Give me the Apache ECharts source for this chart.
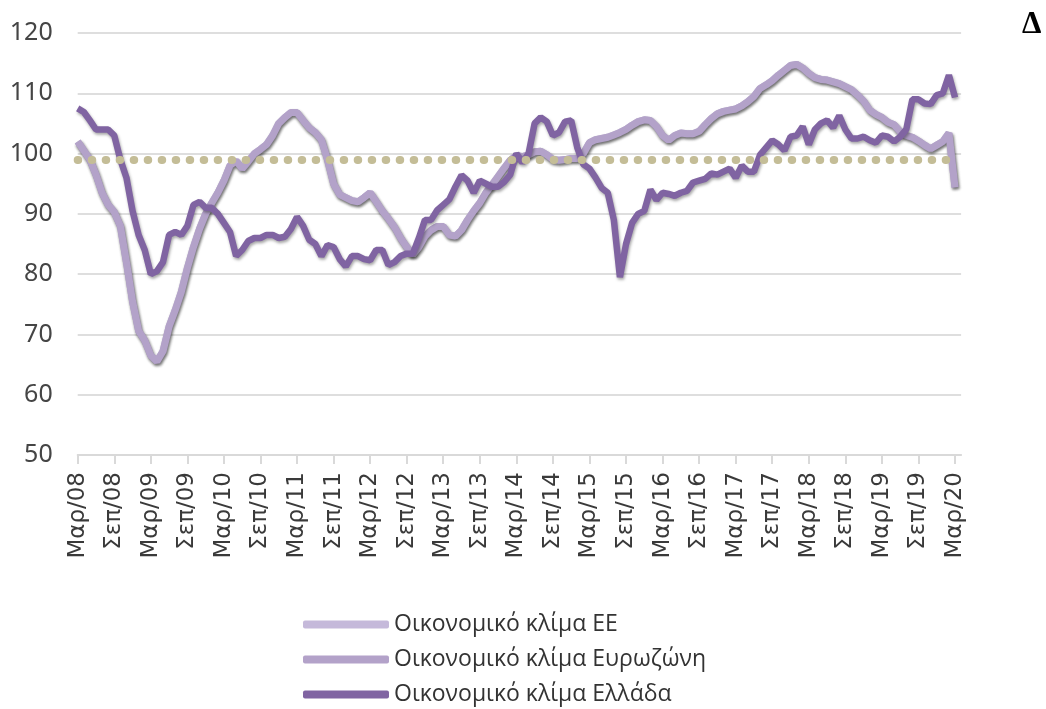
<!DOCTYPE html>
<html>
<head>
<meta charset="utf-8">
<script src="https://cdn.jsdelivr.net/npm/echarts@6/dist/echarts.min.js"></script>
<style>
html,body{margin:0;padding:0;background:#fff;}
#chart{width:1046px;height:709px;}
</style>
</head>
<body>
<div id="chart"></div>
<script>
// Month names (Greek) used to build category labels
const MONTH_NAMES = ['Ιαν','Φεβ','Μαρ','Απρ','Μαϊ','Ιουν','Ιουλ','Αυγ','Σεπ','Οκτ','Νοε','Δεκ'];
// Categories: Mar/08 .. Apr/20 (last one is empty padding at the end of the axis)
const categories = [];
for (let y = 2008, m = 2; !(y === 2020 && m === 4); m++) {
  if (m === 12) { m = 0; y++; }
  categories.push(MONTH_NAMES[m] + '/' + String(y % 100).padStart(2, '0'));
}

const seriesNames = ['Οικονομικό κλίμα ΕΕ', 'Οικονομικό κλίμα Ευρωζώνη', 'Οικονομικό κλίμα Ελλάδα'];

// Economic sentiment, EU (Mar/08 .. Mar/20)
const euValues = [
  102, 100.5, 99, 96.5, 93.5, 91.5, 90.3, 88, 82, 75.5, 70.6, 69,
  66.5, 65.5, 67.2, 71.3, 74, 77, 81, 84.5, 87.5, 90, 91.8, 93.5,
  95.5, 98, 98.8, 97.5, 98.7, 100, 100.7, 101.5, 103, 105, 106, 106.8,
  106.8, 105.5, 104.3, 103.5, 102.3, 99, 95, 93.2, 92.7, 92.2, 92, 92.7,
  93.5, 92, 90.5, 89.2, 87.8, 86, 84.5, 83.2, 84.5, 86.3, 87.3, 87.9,
  87.9, 86.5, 86.3, 87.3, 89, 90.5, 91.8, 93.5, 94.8, 96.2, 97.6, 98.9,
  99.7, 99.5, 99.8, 100.3, 100.4, 99.8, 99, 98.9, 99, 99.2, 99.2, 100,
  101.8, 102.3, 102.5, 102.7, 103.1, 103.5, 104, 104.7, 105.3, 105.6, 105.5, 104.5,
  103, 102.2, 103, 103.4, 103.3, 103.3, 103.7, 104.8, 105.8, 106.6, 107, 107.2,
  107.4, 107.9, 108.6, 109.5, 110.8, 111.4, 112.1, 113, 113.8, 114.6, 114.8, 114.2,
  113.3, 112.6, 112.3, 112.2, 111.9, 111.6, 111.1, 110.6, 109.7, 108.7, 107.2, 106.5,
  106, 105.2, 104.8, 103.6, 103, 102.7, 102.1, 101.4, 100.8, 101.4, 102, 103.4,
  94.4
];

// Economic sentiment, Euro area (Mar/08 .. Mar/20)
const euroAreaValues = [
  102, 100.5, 99, 96.5, 93.5, 91.5, 90.3, 88, 82, 75.5, 70.6, 69,
  66.5, 65.5, 67.2, 71.3, 74, 77, 81, 84.5, 87.5, 90, 91.8, 93.5,
  95.5, 98, 98.8, 97.5, 98.7, 100, 100.7, 101.5, 103, 105, 106, 106.8,
  106.8, 105.5, 104.3, 103.5, 102.3, 99, 95, 93.2, 92.7, 92.2, 92, 92.7,
  93.5, 92, 90.5, 89.2, 87.8, 86, 84.5, 83.2, 84.5, 86.3, 87.3, 87.9,
  87.9, 86.5, 86.3, 87.3, 89, 90.5, 91.8, 93.5, 94.8, 96.2, 97.6, 98.9,
  99.7, 99.5, 99.8, 100.3, 100.4, 99.8, 99, 98.9, 99, 99.2, 99.2, 100,
  101.8, 102.3, 102.5, 102.7, 103.1, 103.5, 104, 104.7, 105.3, 105.6, 105.5, 104.5,
  103, 102.2, 103, 103.4, 103.3, 103.3, 103.7, 104.8, 105.8, 106.6, 107, 107.2,
  107.4, 107.9, 108.6, 109.5, 110.8, 111.4, 112.1, 113, 113.8, 114.6, 114.8, 114.2,
  113.3, 112.6, 112.3, 112.2, 111.9, 111.6, 111.1, 110.6, 109.7, 108.7, 107.2, 106.5,
  106, 105.2, 104.8, 103.6, 103, 102.7, 102.1, 101.4, 100.8, 101.4, 102, 103.4,
  94.4
];

// Economic sentiment, Greece (Mar/08 .. Mar/20)
const greeceValues = [
  107.5, 106.9, 105.5, 104, 104, 104, 103, 99, 96, 90.5, 86.5, 84,
  80, 80.5, 82, 86.5, 87, 86.5, 88, 91.5, 92, 91, 91, 90,
  88.5, 87, 83, 84, 85.5, 86, 86, 86.5, 86.5, 86, 86.2, 87.5,
  89.5, 88, 85.7, 85, 83, 84.8, 84.5, 82.5, 81.3, 83, 83, 82.5,
  82.3, 84, 84, 81.5, 82, 83, 83.4, 83.4, 86, 89, 89, 90.6,
  91.5, 92.4, 94.5, 96.4, 95.5, 93.5, 95.5, 95, 94.5, 94.5, 95.3, 96.5,
  100, 98.5, 100, 105, 106, 105.3, 103, 103.5, 105.3, 105.5, 101, 98.2,
  97.5, 96, 94.3, 93.5, 89, 79.5, 85, 88.5, 90, 90.5, 94, 92.3,
  93.5, 93.3, 93, 93.5, 93.8, 95.2, 95.5, 95.8, 96.7, 96.5, 97, 97.5,
  96, 98, 97, 97, 99.8, 101, 102.2, 101.5, 100.5, 102.8, 103, 104.5,
  101.5, 104, 105, 105.5, 104.3, 106.3, 104, 102.5, 102.5, 102.8, 102.2, 101.8,
  103, 102.8, 102, 102.8, 104, 109, 109, 108.3, 108.2, 109.7, 110, 113,
  109.3
];

// Dotted reference level and its span
const REF_LEVEL = 99;
const REF_START = 'Μαρ/08';
const REF_END = 'Μαρ/20';

const yTicks = { min: 50, max: 120, interval: 10 };
const colors = ['#c5b9da', '#b3a2c9', '#8064a2'];

const shadow = { shadowColor: 'rgba(0,0,0,0.35)', shadowBlur: 3, shadowOffsetX: 1, shadowOffsetY: 2 };

const chart = echarts.init(document.getElementById('chart'), null, { renderer: 'canvas' });
chart.setOption({
  animation: false,
  color: colors,
  grid: { left: 77.7, right: 84.9, top: 33, bottom: 254, containLabel: false },
  xAxis: {
    type: 'category',
    data: categories,
    boundaryGap: false,
    axisLine: { show: true, lineStyle: { color: '#d9d9d9', width: 2 } },
    axisTick: { show: true, interval: 5, length: 9, lineStyle: { color: '#d9d9d9', width: 2 } },
    axisLabel: {
      interval: 5, rotate: 90, margin: 17,
      fontFamily: '"DejaVu Sans", sans-serif', fontSize: 23, color: '#3a3a3a'
    },
    splitLine: { show: false }
  },
  yAxis: {
    type: 'value',
    min: yTicks.min, max: yTicks.max, interval: yTicks.interval,
    axisLine: { show: false },
    axisTick: { show: false },
    axisLabel: { margin: 25, fontFamily: '"Noto Sans", sans-serif', fontSize: 25, color: '#454545' },
    splitLine: { lineStyle: { color: '#dedede', width: 2 } }
  },
  legend: {
    orient: 'vertical',
    left: 303, top: 613, padding: 0,
    itemWidth: 86, itemHeight: 8, itemGap: 12, itemTextGap: 6,
    icon: 'roundRect',
    data: seriesNames,
    textStyle: { fontFamily: '"Open Sans", "Noto Sans", sans-serif', fontSize: 23, lineHeight: 23, color: '#333' }
  },
  graphic: [{
    type: 'text', left: 1022, top: 9,
    style: { text: 'Δ', font: 'bold 31px "Liberation Serif", "DejaVu Serif", serif', fill: '#000' }
  }],
  series: [
    { name: seriesNames[0], type: 'line', data: euValues, showSymbol: false, symbol: 'none',
      lineStyle: Object.assign({ width: 7, color: colors[0] }, shadow), z: 2 },
    { name: seriesNames[1], type: 'line', data: euroAreaValues, showSymbol: false, symbol: 'none',
      lineStyle: Object.assign({ width: 7, color: colors[1] }, shadow), z: 3 },
    { name: seriesNames[2], type: 'line', data: greeceValues, showSymbol: false, symbol: 'none',
      lineStyle: Object.assign({ width: 6.5, color: colors[2] }, shadow), z: 4 },
    { name: 'ref', type: 'line', data: [], z: 6, silent: true,
      markLine: {
        silent: true, symbol: 'none', label: { show: false },
        lineStyle: { color: '#c4bd97', width: 8, type: [0.5, 13.5], cap: 'round' },
        data: [[{ coord: [REF_START, REF_LEVEL] }, { coord: [REF_END, REF_LEVEL] }]]
      }
    }
  ]
});
</script>
</body>
</html>
